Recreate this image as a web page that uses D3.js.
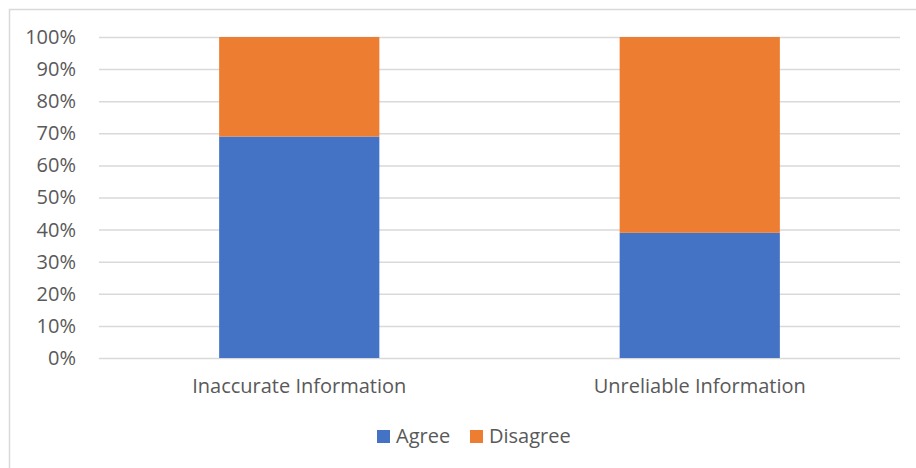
<!DOCTYPE html>
<html>
<head>
<meta charset="utf-8">
<script src="https://cdn.jsdelivr.net/npm/d3@7"></script>
<style>
  body { margin: 0; background: #fff; }
  text { font-family: "Open Sans", "Noto Sans", sans-serif; fill: #595959; }
</style>
</head>
<body>
<div id="chart"></div>
<script>
// data
var categories = ["Inaccurate Information", "Unreliable Information"];
var agree = [69, 39];
var disagree = [31, 61];
var series = ["Agree", "Disagree"];
var colors = ["#4472C4", "#ED7D31"];
var yTicks = [0, 10, 20, 30, 40, 50, 60, 70, 80, 90, 100];

var W = 916, H = 468;
var margin = {top: 37, right: 16, bottom: 110, left: 99},
    width = W - margin.left - margin.right,
    height = H - margin.top - margin.bottom;

var svg = d3.select("#chart")
  .append("svg")
    .attr("width", W)
    .attr("height", H);

// chart frame
svg.append("rect")
  .attr("x", 9.5).attr("y", 9.5)
  .attr("width", W + 10).attr("height", H + 10)
  .attr("fill", "none")
  .attr("stroke", "#d9d9d9")
  .attr("stroke-width", 1.5);

var g = svg.append("g")
  .attr("transform", "translate(" + margin.left + "," + margin.top + ")");

var x = d3.scaleBand()
  .domain(categories)
  .range([0, width])
  .paddingInner(0.6)
  .paddingOuter(0.3);

var y = d3.scaleLinear()
  .domain([0, 100])
  .range([height, 0]);

// gridlines + y labels
var yAxis = g.append("g")
  .call(d3.axisLeft(y)
    .tickValues(yTicks)
    .tickSize(-width)
    .tickPadding(23)
    .tickFormat(function(d) { return d + "%"; }));
yAxis.select(".domain").remove();
yAxis.selectAll(".tick line").attr("stroke", "#d9d9d9").attr("stroke-width", 1.5);
yAxis.attr("font-size", 20).attr("font-family", null);
yAxis.selectAll(".tick text").attr("fill", "#595959");

// stack
var rows = categories.map(function(c, i) {
  return {cat: c, Agree: agree[i], Disagree: disagree[i]};
});
var stacked = d3.stack().keys(series)(rows);

g.selectAll(".layer")
  .data(stacked)
  .enter().append("g")
    .attr("fill", function(d, i) { return colors[i]; })
  .selectAll("rect")
  .data(function(d) { return d; })
  .enter().append("rect")
    .attr("x", function(d) { return x(d.data.cat); })
    .attr("y", function(d) { return y(d[1]); })
    .attr("width", x.bandwidth())
    .attr("height", function(d) { return y(d[0]) - y(d[1]); });

// category labels
var xAxis = g.append("g")
  .attr("transform", "translate(0," + height + ")")
  .call(d3.axisBottom(x).tickSize(0).tickPadding(21));
xAxis.select(".domain").remove();
xAxis.attr("font-size", 20).attr("font-family", null);
xAxis.selectAll(".tick text").attr("fill", "#595959");

// legend
var legend = svg.append("g").attr("transform", "translate(377,430)");
var lx = [0, 93];
series.forEach(function(s, i) {
  var item = legend.append("g").attr("transform", "translate(" + lx[i] + ",0)");
  item.append("rect")
    .attr("width", 13).attr("height", 13)
    .attr("fill", colors[i]);
  item.append("text")
    .attr("x", 19).attr("y", 13)
    .attr("font-size", 20)
    .text(s);
});
</script>
</body>
</html>
